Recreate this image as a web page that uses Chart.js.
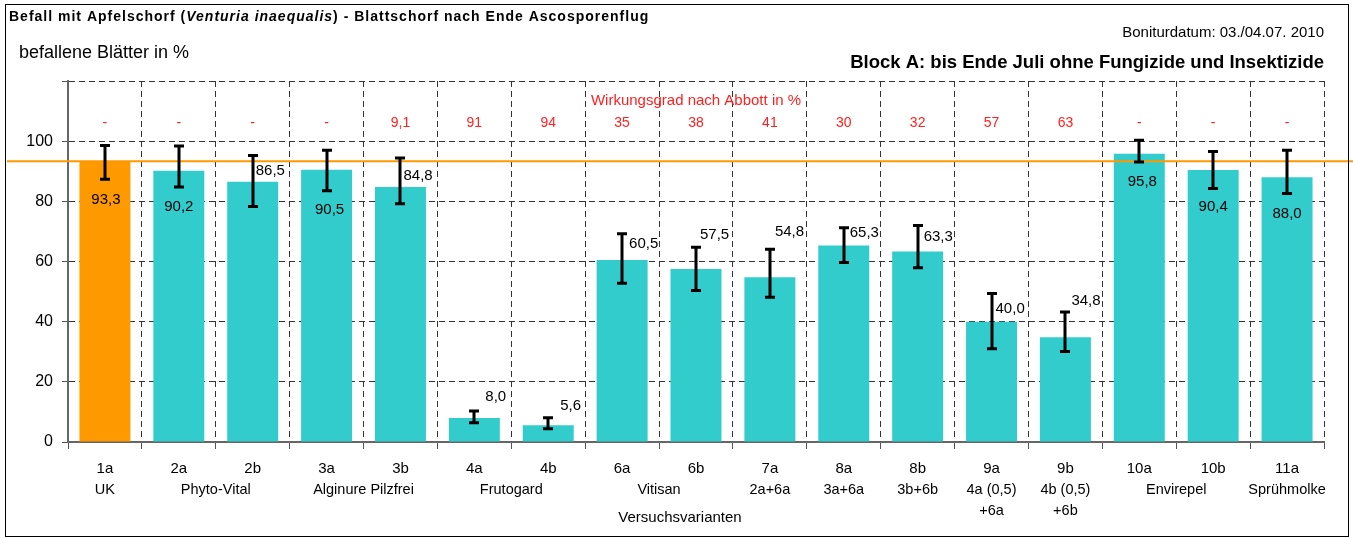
<!DOCTYPE html>
<html>
<head>
<meta charset="utf-8">
<script src="https://cdn.jsdelivr.net/npm/chart.js@4/dist/chart.umd.min.js"></script>
<style>
  html, body { margin: 0; padding: 0; background: #fff; }
</style>
</head>
<body>
<canvas id="chart" width="1353" height="538"></canvas>
<script>
// Data
const codes = ['1a', '2a', '2b', '3a', '3b', '4a', '4b', '6a', '6b', '7a', '8a', '8b', '9a', '9b', '10a', '10b', '11a'];
const befall = [93.3, 90.2, 86.5, 90.5, 84.8, 8.0, 5.6, 60.5, 57.5, 54.8, 65.3, 63.3, 40.0, 34.8, 95.8, 90.4, 88.0];
const errLow = [87.3, 84.8, 78.3, 83.5, 79.2, 6.4, 4.4, 52.8, 50.4, 48.1, 59.7, 57.9, 31.0, 30.1, 93.1, 84.3, 82.6];
const errHigh = [98.6, 98.4, 95.2, 97.0, 94.4, 10.3, 8.1, 69.2, 64.7, 64.1, 71.2, 72.0, 49.4, 43.2, 100.3, 96.6, 97.0];
const abbott = ['-', '-', '-', '-', '9,1', '91', '94', '35', '38', '41', '30', '32', '57', '63', '-', '-', '-'];
// variant name, first and last category it belongs to
const varianten = [
    [['UK'], 0, 0],
    [['Phyto-Vital'], 1, 2],
    [['Alginure Pilzfrei'], 3, 4],
    [['Frutogard'], 5, 6],
    [['Vitisan'], 7, 8],
    [['2a+6a'], 9, 9],
    [['3a+6a'], 10, 10],
    [['3b+6b'], 11, 11],
    [['4a (0,5)', '+6a'], 12, 12],
    [['4b (0,5)', '+6b'], 13, 13],
    [['Envirepel'], 14, 15],
    [['Sprühmolke'], 16, 16],
];
const kontrolle = 93.3;
const yMax = 120;
const yStep = 20;

// label placement: c = centered inside bar, l = right of error bar
const labelPlace = [
    ['c', 1, 39], ['c', 0, 36], ['l', 3, -11], ['c', 3, 40], ['l', 3, -11],
    ['l', 11, -21], ['l', 12, -19], ['l', 7, -16], ['l', 4, -34], ['l', 5, -45],
    ['l', 6, -13], ['l', 6, -15], ['l', 4, -13], ['l', 6, -36],
    ['c', 3, 28], ['c', 0, 37], ['c', 0, 37]
];

const FONT = '"Liberation Sans", Arial, sans-serif';
const ORANGE = '#FF9900';
const TEAL = '#33CCCC';

function num(v) {
    return v.toFixed(1).replace('.', ',');
}

const overlay = {
    id: 'overlay',
    afterDatasetsDraw(chart) {
        const ctx = chart.ctx;
        const x = chart.scales.x;
        const y = chart.scales.y;

        // control reference line
        const ly = y.getPixelForValue(kontrolle);
        ctx.save();
        ctx.strokeStyle = ORANGE;
        ctx.lineWidth = 2;
        ctx.beginPath();
        ctx.moveTo(7, ly);
        ctx.lineTo(chart.width, ly);
        ctx.stroke();

        // error bars
        ctx.strokeStyle = '#000';
        ctx.lineWidth = 3;
        befall.forEach((v, i) => {
            const cx = Math.round(x.getPixelForValue(i));
            const top = y.getPixelForValue(errHigh[i]);
            const bot = y.getPixelForValue(errLow[i]);
            ctx.beginPath();
            ctx.moveTo(cx, top);
            ctx.lineTo(cx, bot);
            ctx.moveTo(cx - 5, top);
            ctx.lineTo(cx + 5, top);
            ctx.moveTo(cx - 5, bot);
            ctx.lineTo(cx + 5, bot);
            ctx.stroke();
        });

        // value labels
        ctx.fillStyle = '#000';
        ctx.font = '15px ' + FONT;
        ctx.textBaseline = 'middle';
        befall.forEach((v, i) => {
            const p = labelPlace[i];
            const cx = x.getPixelForValue(i);
            const vy = y.getPixelForValue(v);
            ctx.textAlign = p[0] === 'c' ? 'center' : 'left';
            ctx.fillText(num(v), cx + p[1], vy + p[2]);
        });
        ctx.restore();
    },
    afterDraw(chart) {
        const ctx = chart.ctx;
        const x = chart.scales.x;
        ctx.save();

        // frame
        ctx.strokeStyle = '#000';
        ctx.lineWidth = 1;
        ctx.strokeRect(5.5, 4.5, 1343, 532);

        // title, mixed styles
        ctx.textBaseline = 'middle';
        ctx.textAlign = 'left';
        ctx.letterSpacing = '1px';
        const parts = [
            ['bold 14px ', 'Befall mit Apfelschorf ('],
            ['bold italic 14px ', 'Venturia inaequalis'],
            ['bold 14px ', ') - Blattschorf nach Ende Ascosporenflug']
        ];
        let tx = 9;
        parts.forEach(p => {
            ctx.font = p[0] + FONT;
            ctx.fillText(p[1], tx, 17);
            tx += ctx.measureText(p[1]).width;
        });
        ctx.letterSpacing = '0px';

        ctx.font = '15px ' + FONT;
        ctx.textAlign = 'right';
        ctx.fillText('Boniturdatum: 03./04.07. 2010', 1324, 33);

        ctx.font = 'bold 18.5px ' + FONT;
        ctx.fillText('Block A: bis Ende Juli ohne Fungizide und Insektizide', 1324, 63);

        ctx.textAlign = 'left';
        ctx.font = '18px ' + FONT;
        ctx.fillText('befallene Blätter in %', 19, 53);

        // Abbott row
        ctx.fillStyle = '#FF2020';
        ctx.textAlign = 'center';
        ctx.font = '15px ' + FONT;
        ctx.fillText('Wirkungsgrad nach Abbott in %', x.getPixelForValue(8), 101);
        ctx.font = '14px ' + FONT;
        abbott.forEach((a, i) => {
            ctx.fillText(a, x.getPixelForValue(i), 123);
        });

        // variant names under codes
        ctx.fillStyle = '#000';
        ctx.font = '14.5px ' + FONT;
        varianten.forEach(g => {
            const cx = (x.getPixelForValue(g[1]) + x.getPixelForValue(g[2])) / 2;
            g[0].forEach((line, k) => {
                ctx.fillText(line, cx, 490 + k * 21);
            });
        });
        ctx.font = '15px ' + FONT;
        ctx.fillText('Versuchsvarianten', 680, 518);
        ctx.restore();
    }
};

new Chart(document.getElementById('chart'), {
    type: 'bar',
    data: {
        labels: codes,
        datasets: [{
            data: befall,
            backgroundColor: befall.map((v, i) => i === 0 ? ORANGE : TEAL),
            categoryPercentage: 1,
            barPercentage: 0.69
        }]
    },
    options: {
        responsive: false,
        animation: false,
        events: [],
        layout: { padding: { top: 81, right: 29, left: 0, bottom: 0 } },
        plugins: {
            legend: { display: false },
            tooltip: { enabled: false }
        },
        scales: {
            x: {
                afterFit: s => { s.height = 96; },
                grid: {
                    offset: true,
                    color: '#333',
                    lineWidth: 1,
                    tickLength: 7,
                    tickColor: '#555',
                    tickBorderDash: []
                },
                border: { color: '#666', width: 2, dash: [6, 4] },
                ticks: {
                    color: '#000',
                    font: { family: FONT, size: 15 },
                    padding: 11,
                    maxRotation: 0,
                    autoSkip: false
                }
            },
            y: {
                min: 0,
                max: yMax,
                afterFit: s => { s.width = 68; },
                grid: {
                    color: '#333',
                    lineWidth: 1,
                    tickLength: 6,
                    tickColor: '#555',
                    tickBorderDash: []
                },
                border: { color: '#666', width: 2, dash: [6, 4] },
                ticks: {
                    stepSize: yStep,
                    color: '#000',
                    padding: 9,
                    font: { family: FONT, size: 16 },
                    callback: v => v === yMax ? '' : v
                }
            }
        }
    },
    plugins: [overlay]
});
</script>
</body>
</html>
